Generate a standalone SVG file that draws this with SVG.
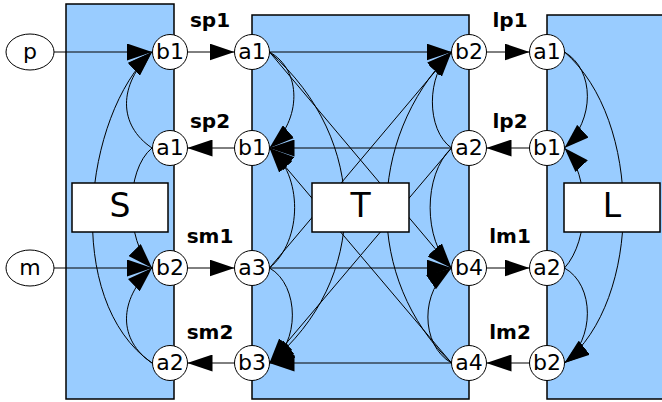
<svg xmlns="http://www.w3.org/2000/svg" width="662" height="402" viewBox="0 0 662 402">
<style>
.cont{fill:#99ccff;stroke:#000;stroke-width:1.5}
.lbox{fill:#fff;stroke:#000;stroke-width:1.5}
.nd{fill:#fff;stroke:#000;stroke-width:1}
.e{fill:none;stroke:#000;stroke-width:1;marker-end:url(#ah)}
.nt{font-family:"DejaVu Sans",sans-serif;font-size:22px;text-anchor:middle;fill:#000}
.bt{font-family:"DejaVu Sans",sans-serif;font-size:33px;text-anchor:middle;fill:#000}
.ct{font-family:"DejaVu Sans",sans-serif;font-size:20px;font-weight:bold;text-anchor:middle;fill:#000}
</style>
<defs>
<marker id="ah" markerUnits="userSpaceOnUse" markerWidth="25" markerHeight="17" viewBox="0 0 25 17" refX="25" refY="8.5" orient="auto"><path d="M0,0 L25,8.5 L0,17 z" fill="#000"/></marker>
</defs>
<g id="containers">
<rect class="cont" x="66" y="4" width="108" height="395"/>
<rect class="cont" x="252" y="15" width="217" height="384"/>
<rect class="cont" x="547" y="15" width="120" height="384"/>
</g>
<g id="connectors">
<path class="e" d="M54,52 L152,52"/>
<path class="e" d="M54,268 L152,268"/>
<path class="e" d="M152,148 C118,125 118,85 152,52"/>
<path class="e" d="M152,363 C62,300 84,115 152,52"/>
<path class="e" d="M152,148 C125,170 125,240 152,268"/>
<path class="e" d="M152,363 C118,340 118,300 152,268"/>
<path class="e" d="M187.5,52 L234.5,52"/>
<path class="e" d="M234.5,148 L187.5,148"/>
<path class="e" d="M187.5,268 L234.5,268"/>
<path class="e" d="M234.5,363 L187.5,363"/>
<path class="e" d="M269.5,52 L451.5,52"/>
<path class="e" d="M451.5,148 L269.5,148"/>
<path class="e" d="M269.5,268 L451.5,268"/>
<path class="e" d="M451.5,363 L269.5,363"/>
<path class="e" d="M269.5,52 L451.5,268"/>
<path class="e" d="M451.5,148 L269.5,363"/>
<path class="e" d="M269.5,268 L451.5,52"/>
<path class="e" d="M451.5,363 L269.5,148"/>
<path class="e" d="M269.5,52 C302,70 302,120 269.5,148"/>
<path class="e" d="M269.5,268 C303,240 303,175 269.5,148"/>
<path class="e" d="M269.5,268 C300,285 300,345 269.5,363"/>
<path class="e" d="M269.5,52 C370,140 370,280 269.5,363"/>
<path class="e" d="M451.5,148 C426,130 426,75 451.5,52"/>
<path class="e" d="M451.5,148 C423,175 423,240 451.5,268"/>
<path class="e" d="M451.5,363 C420,345 420,290 451.5,268"/>
<path class="e" d="M451.5,363 C365,280 365,140 451.5,52"/>
<path class="e" d="M486.5,52 L529.5,52"/>
<path class="e" d="M529.5,148 L486.5,148"/>
<path class="e" d="M486.5,268 L529.5,268"/>
<path class="e" d="M529.5,363 L486.5,363"/>
<path class="e" d="M564.5,52 C595,70 595,120 564.5,148"/>
<path class="e" d="M564.5,268 C595,285 595,340 564.5,363"/>
<path class="e" d="M564.5,52 C643,120 643,300 564.5,363"/>
<path class="e" d="M564.5,268 C590,240 590,175 564.5,148"/>
</g>
<g id="S"><rect class="lbox" x="72" y="183" width="96" height="49"/><text class="bt" x="120" y="217">S</text></g>
<g id="T"><rect class="lbox" x="312" y="183" width="97" height="49"/><text class="bt" x="360.5" y="217">T</text></g>
<g id="L"><rect class="lbox" x="564" y="183" width="96" height="49"/><text class="bt" x="612" y="217">L</text></g>
<g id="p"><ellipse class="nd" cx="30" cy="52" rx="24" ry="18"/><text class="nt" x="30" y="59">p</text></g>
<g id="m"><ellipse class="nd" cx="30" cy="268" rx="24" ry="18"/><text class="nt" x="30" y="275">m</text></g>
<g id="S_b1"><circle class="nd" cx="170" cy="52" r="17.5"/><text class="nt" x="170" y="59">b1</text></g>
<g id="S_a1"><circle class="nd" cx="170" cy="148" r="17.5"/><text class="nt" x="170" y="155">a1</text></g>
<g id="S_b2"><circle class="nd" cx="170" cy="268" r="17.5"/><text class="nt" x="170" y="275">b2</text></g>
<g id="S_a2"><circle class="nd" cx="170" cy="363" r="17.5"/><text class="nt" x="170" y="370">a2</text></g>
<g id="T_a1"><circle class="nd" cx="252" cy="52" r="17.5"/><text class="nt" x="252" y="59">a1</text></g>
<g id="T_b1"><circle class="nd" cx="252" cy="148" r="17.5"/><text class="nt" x="252" y="155">b1</text></g>
<g id="T_a3"><circle class="nd" cx="252" cy="268" r="17.5"/><text class="nt" x="252" y="275">a3</text></g>
<g id="T_b3"><circle class="nd" cx="252" cy="363" r="17.5"/><text class="nt" x="252" y="370">b3</text></g>
<g id="T_b2"><circle class="nd" cx="469" cy="52" r="17.5"/><text class="nt" x="469" y="59">b2</text></g>
<g id="T_a2"><circle class="nd" cx="469" cy="148" r="17.5"/><text class="nt" x="469" y="155">a2</text></g>
<g id="T_b4"><circle class="nd" cx="469" cy="268" r="17.5"/><text class="nt" x="469" y="275">b4</text></g>
<g id="T_a4"><circle class="nd" cx="469" cy="363" r="17.5"/><text class="nt" x="469" y="370">a4</text></g>
<g id="L_a1"><circle class="nd" cx="547" cy="52" r="17.5"/><text class="nt" x="547" y="59">a1</text></g>
<g id="L_b1"><circle class="nd" cx="547" cy="148" r="17.5"/><text class="nt" x="547" y="155">b1</text></g>
<g id="L_a2"><circle class="nd" cx="547" cy="268" r="17.5"/><text class="nt" x="547" y="275">a2</text></g>
<g id="L_b2"><circle class="nd" cx="547" cy="363" r="17.5"/><text class="nt" x="547" y="370">b2</text></g>
<g id="labels">
<text class="ct" x="210" y="27">sp1</text>
<text class="ct" x="210" y="128">sp2</text>
<text class="ct" x="210" y="243">sm1</text>
<text class="ct" x="210" y="339">sm2</text>
<text class="ct" x="510" y="27">lp1</text>
<text class="ct" x="510" y="128">lp2</text>
<text class="ct" x="510" y="243">lm1</text>
<text class="ct" x="510" y="339">lm2</text>
</g>
</svg>
